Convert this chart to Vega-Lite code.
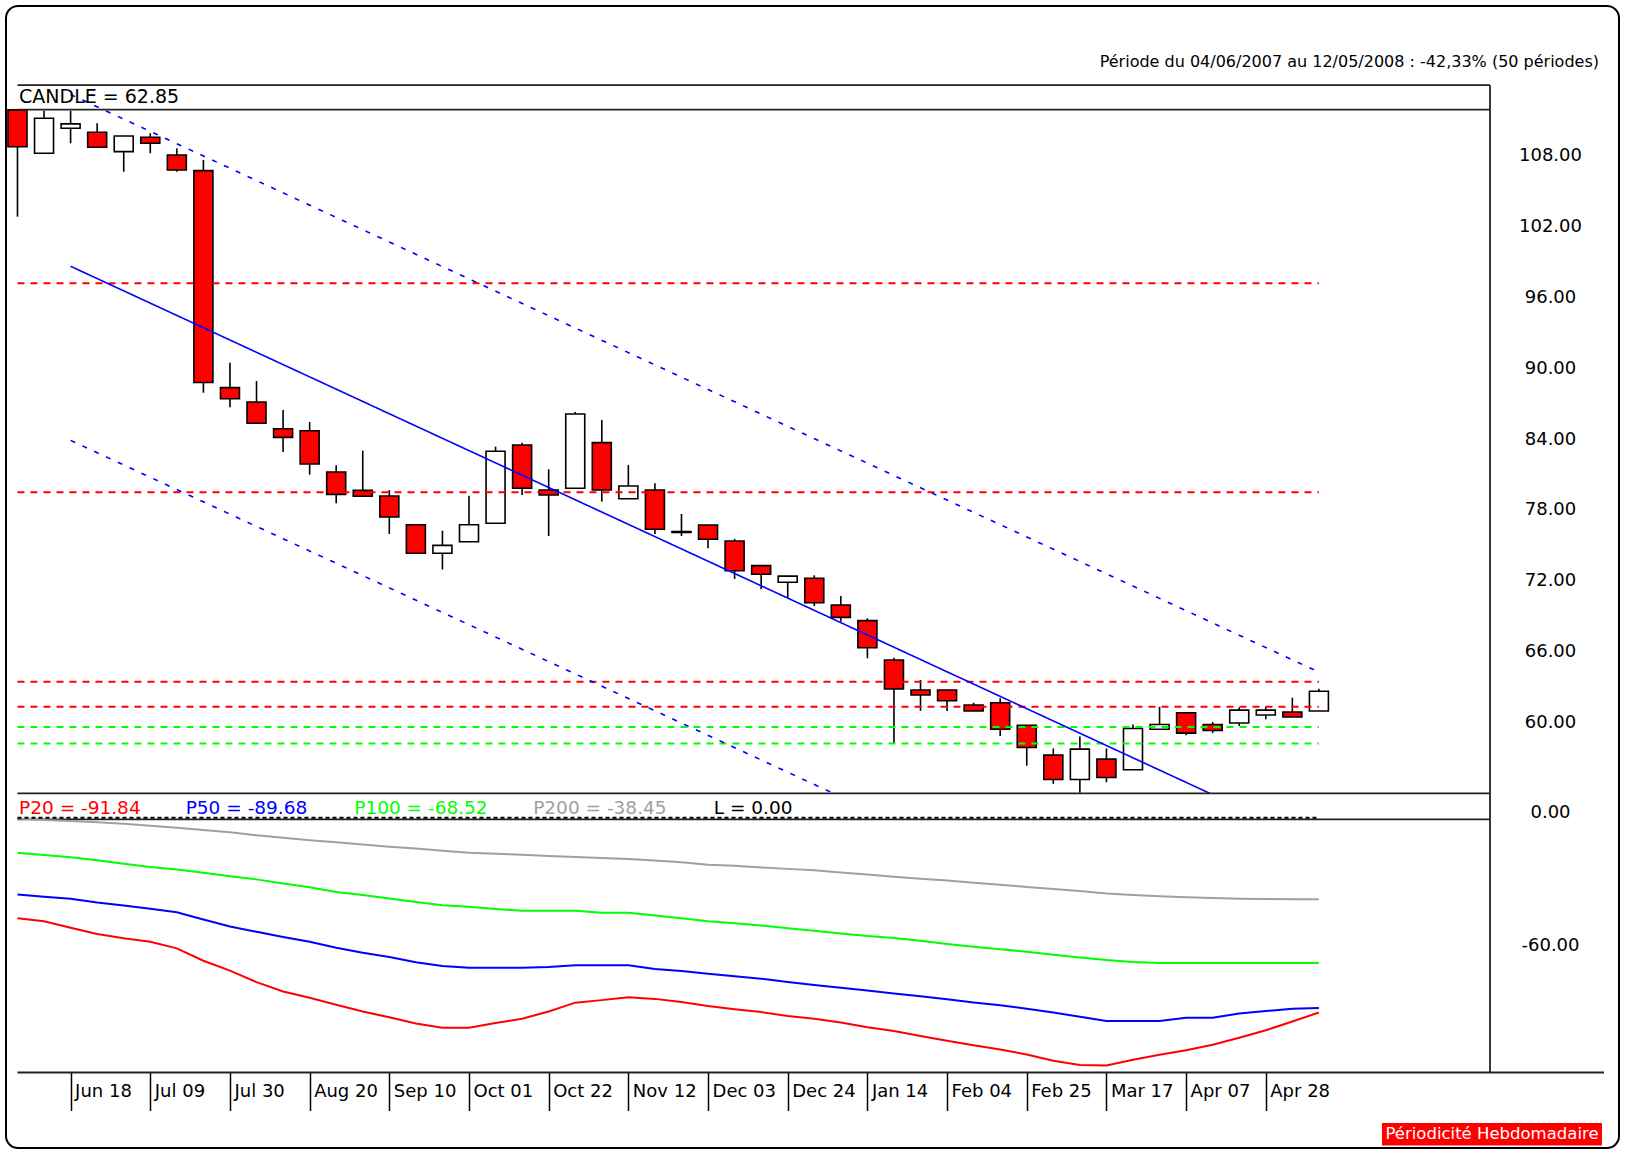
{
"$schema": "https://vega.github.io/schema/vega-lite/v6.json",
"width": 1613, "height": 1142,
"autosize": "none",
"padding": {"left": 6, "top": 6, "right": 11, "bottom": 3},
"background": "#ffffff",
"config": {"font": "DejaVu Sans", "view": {"stroke": "#000000", "strokeWidth": 2, "cornerRadius": 12}},
"datasets": {
"weekly": [
{"date":"2007-06-04","open":112.1,"high":112.1,"low":103.05,"close":108.98,"p20":-47.43,"p50":-36.16,"p100":-16.48,"p200":-0.35},
{"date":"2007-06-11","open":108.42,"high":112.03,"low":108.42,"close":111.39,"p20":-48.82,"p50":-37.24,"p100":-17.56,"p200":-1.05},
{"date":"2007-06-18","open":110.54,"high":112.03,"low":109.27,"close":110.91,"p20":-51.88,"p50":-38.13,"p100":-18.65,"p200":-1.54},
{"date":"2007-06-25","open":110.2,"high":110.97,"low":108.93,"close":108.93,"p20":-54.85,"p50":-39.91,"p100":-20.04,"p200":-2.04},
{"date":"2007-07-02","open":108.56,"high":109.89,"low":106.86,"close":109.89,"p20":-56.83,"p50":-41.4,"p100":-21.62,"p200":-2.83},
{"date":"2007-07-09","open":109.78,"high":110.12,"low":108.42,"close":109.27,"p20":-58.51,"p50":-42.88,"p100":-23.2,"p200":-3.72},
{"date":"2007-07-16","open":108.28,"high":108.85,"low":106.86,"close":107.01,"p20":-61.57,"p50":-44.56,"p100":-24.39,"p200":-4.71},
{"date":"2007-07-23","open":106.95,"high":107.86,"low":88.14,"close":89.0,"p20":-67.41,"p50":-47.93,"p100":-25.87,"p200":-5.7},
{"date":"2007-07-30","open":88.57,"high":90.68,"low":86.91,"close":87.63,"p20":-72.06,"p50":-51.29,"p100":-27.55,"p200":-6.78},
{"date":"2007-08-06","open":87.35,"high":89.13,"low":85.55,"close":85.55,"p20":-77.5,"p50":-53.76,"p100":-29.04,"p200":-8.27},
{"date":"2007-08-13","open":85.09,"high":86.68,"low":83.12,"close":84.36,"p20":-81.95,"p50":-56.23,"p100":-31.01,"p200":-9.45},
{"date":"2007-08-20","open":84.92,"high":85.66,"low":81.2,"close":82.1,"p20":-84.91,"p50":-58.51,"p100":-32.79,"p200":-10.54},
{"date":"2007-08-27","open":81.42,"high":82.0,"low":78.77,"close":79.53,"p20":-88.18,"p50":-61.28,"p100":-34.97,"p200":-11.53},
{"date":"2007-09-03","open":79.87,"high":83.23,"low":79.37,"close":79.37,"p20":-91.34,"p50":-63.65,"p100":-36.45,"p200":-12.62},
{"date":"2007-09-10","open":79.39,"high":79.9,"low":76.17,"close":77.61,"p20":-94.11,"p50":-65.63,"p100":-38.04,"p200":-13.61},
{"date":"2007-09-17","open":76.96,"high":76.96,"low":74.54,"close":74.54,"p20":-96.98,"p50":-68.1,"p100":-39.72,"p200":-14.5},
{"date":"2007-09-24","open":74.54,"high":76.45,"low":73.16,"close":75.21,"p20":-99.06,"p50":-69.88,"p100":-41.2,"p200":-15.49},
{"date":"2007-10-01","open":75.52,"high":79.42,"low":75.52,"close":76.96,"p20":-99.06,"p50":-70.67,"p100":-41.99,"p200":-16.48},
{"date":"2007-10-08","open":77.08,"high":83.57,"low":77.08,"close":83.18,"p20":-96.78,"p50":-70.67,"p100":-42.98,"p200":-16.97},
{"date":"2007-10-15","open":83.71,"high":83.91,"low":79.47,"close":80.04,"p20":-94.8,"p50":-70.67,"p100":-43.87,"p200":-17.46},
{"date":"2007-10-22","open":79.9,"high":81.65,"low":76.0,"close":79.48,"p20":-91.34,"p50":-70.37,"p100":-43.87,"p200":-17.96},
{"date":"2007-10-29","open":80.04,"high":86.51,"low":80.04,"close":86.34,"p20":-87.19,"p50":-69.58,"p100":-43.87,"p200":-18.45},
{"date":"2007-11-05","open":83.91,"high":85.83,"low":78.91,"close":79.9,"p20":-86.0,"p50":-69.58,"p100":-44.76,"p200":-18.95},
{"date":"2007-11-12","open":79.16,"high":82.02,"low":79.16,"close":80.24,"p20":-84.62,"p50":-69.58,"p100":-44.76,"p200":-19.44},
{"date":"2007-11-19","open":79.9,"high":80.47,"low":76.17,"close":76.57,"p20":-85.41,"p50":-71.36,"p100":-46.05,"p200":-20.13},
{"date":"2007-11-26","open":76.38,"high":77.87,"low":76.0,"close":76.3,"p20":-86.89,"p50":-72.25,"p100":-47.33,"p200":-20.93},
{"date":"2007-12-03","open":76.93,"high":76.93,"low":74.96,"close":75.72,"p20":-88.77,"p50":-73.54,"p100":-48.82,"p200":-22.11},
{"date":"2007-12-10","open":75.58,"high":75.76,"low":72.36,"close":73.06,"p20":-90.25,"p50":-74.73,"p100":-49.71,"p200":-22.61},
{"date":"2007-12-17","open":73.49,"high":73.49,"low":71.49,"close":72.76,"p20":-91.64,"p50":-75.91,"p100":-50.79,"p200":-23.4},
{"date":"2007-12-24","open":72.08,"high":72.6,"low":70.72,"close":72.6,"p20":-93.52,"p50":-77.5,"p100":-52.08,"p200":-24.09},
{"date":"2007-12-31","open":72.42,"high":72.67,"low":70.07,"close":70.35,"p20":-94.8,"p50":-78.88,"p100":-53.27,"p200":-24.78},
{"date":"2008-01-07","open":70.16,"high":70.92,"low":68.74,"close":69.11,"p20":-96.58,"p50":-80.17,"p100":-54.55,"p200":-25.77},
{"date":"2008-01-14","open":68.83,"high":69.03,"low":65.64,"close":66.54,"p20":-98.76,"p50":-81.45,"p100":-55.74,"p200":-26.76},
{"date":"2008-01-21","open":65.5,"high":65.69,"low":58.44,"close":63.04,"p20":-100.54,"p50":-82.84,"p100":-56.73,"p200":-27.75},
{"date":"2008-01-28","open":62.96,"high":63.8,"low":61.18,"close":62.53,"p20":-102.91,"p50":-84.22,"p100":-58.01,"p200":-28.74},
{"date":"2008-02-04","open":62.96,"high":62.96,"low":61.18,"close":62.05,"p20":-105.19,"p50":-85.61,"p100":-59.5,"p200":-29.53},
{"date":"2008-02-11","open":61.68,"high":61.88,"low":61.18,"close":61.18,"p20":-107.27,"p50":-87.09,"p100":-60.78,"p200":-30.62},
{"date":"2008-02-18","open":61.88,"high":62.25,"low":59.06,"close":59.63,"p20":-109.24,"p50":-88.38,"p100":-61.97,"p200":-31.61},
{"date":"2008-02-25","open":59.97,"high":59.97,"low":56.54,"close":58.08,"p20":-111.62,"p50":-90.05,"p100":-63.16,"p200":-32.6},
{"date":"2008-03-03","open":57.44,"high":58.0,"low":55.0,"close":55.37,"p20":-114.58,"p50":-91.84,"p100":-64.64,"p200":-33.58},
{"date":"2008-03-10","open":55.37,"high":59.01,"low":54.25,"close":57.95,"p20":-116.56,"p50":-93.82,"p100":-65.93,"p200":-34.57},
{"date":"2008-03-17","open":57.1,"high":58.0,"low":55.14,"close":55.54,"p20":-116.86,"p50":-95.79,"p100":-67.11,"p200":-35.66},
{"date":"2008-03-24","open":56.2,"high":60.03,"low":56.2,"close":59.69,"p20":-114.09,"p50":-95.89,"p100":-68.0,"p200":-36.45},
{"date":"2008-03-31","open":59.63,"high":61.53,"low":59.63,"close":60.03,"p20":-111.81,"p50":-95.89,"p100":-68.52,"p200":-37.05},
{"date":"2008-04-07","open":61.03,"high":61.03,"low":59.13,"close":59.3,"p20":-109.64,"p50":-94.31,"p100":-68.52,"p200":-37.44},
{"date":"2008-04-14","open":60.03,"high":60.25,"low":59.3,"close":59.52,"p20":-107.07,"p50":-94.31,"p100":-68.52,"p200":-37.84},
{"date":"2008-04-21","open":60.16,"high":61.48,"low":59.91,"close":61.25,"p20":-103.71,"p50":-92.33,"p100":-68.52,"p200":-38.2},
{"date":"2008-04-28","open":60.84,"high":61.53,"low":60.47,"close":61.25,"p20":-100.24,"p50":-91.14,"p100":-68.52,"p200":-38.3},
{"date":"2008-05-05","open":61.09,"high":62.3,"low":60.67,"close":60.67,"p20":-96.09,"p50":-90.05,"p100":-68.52,"p200":-38.4},
{"date":"2008-05-12","open":61.17,"high":63.05,"low":61.17,"close":62.85,"p20":-91.84,"p50":-89.68,"p100":-68.52,"p200":-38.45}
],
"levels": [
{"kind":"resistance","level":97.41,"date":"2007-06-04","date2":"2008-05-12"},
{"kind":"resistance","level":79.7,"date":"2007-06-04","date2":"2008-05-12"},
{"kind":"resistance","level":63.65,"date":"2007-06-04","date2":"2008-05-12"},
{"kind":"resistance","level":61.54,"date":"2007-06-04","date2":"2008-05-12"},
{"kind":"support","level":59.83,"date":"2007-06-04","date2":"2008-05-12"},
{"kind":"support","level":58.42,"date":"2007-06-04","date2":"2008-05-12"}
],
"channel": [
{"line":"mid","date":"2007-06-18","price":98.85},
{"line":"mid","date":"2008-04-13T07:12:00Z","price":54.19},
{"line":"upper","date":"2007-06-18","price":113.4},
{"line":"upper","date":"2008-05-12","price":64.47},
{"line":"lower","date":"2007-06-18","price":84.1},
{"line":"lower","date":"2008-01-05T02:38:00Z","price":54.19}
],
"frame": [
{"level":114.19,"date":"2007-06-04","date2":"2008-06-26T02:10:00Z"},
{"level":112.12,"date":"2007-06-04","date2":"2008-06-26T02:10:00Z"},
{"level":54.19,"date":"2007-06-04","date2":"2008-06-26T02:10:00Z"},
{"level":51.99,"date":"2007-06-04","date2":"2008-06-26T02:10:00Z"},
{"level":30.55,"date":"2007-06-04","date2":"2008-07-26T03:07:00Z"}
]
},
"encoding": {
"x": {"field": "date", "type": "temporal",
 "scale": {"type": "utc", "nice": false, "padding": 0, "domain": [{"year":2007,"month":"may","date":31,"hours":23,"minutes":23,"utc":true},{"year":2008,"month":"jul","date":30,"hours":2,"minutes":10,"utc":true}]},
 "axis": {"orient": "bottom", "offset": -75.5, "title": null, "format": "%b %d", "domain": false, "grid": false,
  "ticks": true, "tickSize": 38, "tickColor": "#000000", "tickWidth": 1.5,
  "labelAlign": "left", "labelBaseline": "middle", "labelPadding": -19.5, "labelOffset": 4,
  "labelFontSize": 18, "labelColor": "#000000", "labelOverlap": false, "labelFlush": false, "labelBound": false,
  "values": [
   {"year":2007,"month":"jun","date":18,"utc":true},{"year":2007,"month":"jul","date":9,"utc":true},
   {"year":2007,"month":"jul","date":30,"utc":true},{"year":2007,"month":"aug","date":20,"utc":true},
   {"year":2007,"month":"sep","date":10,"utc":true},{"year":2007,"month":"oct","date":1,"utc":true},
   {"year":2007,"month":"oct","date":22,"utc":true},{"year":2007,"month":"nov","date":12,"utc":true},
   {"year":2007,"month":"dec","date":3,"utc":true},{"year":2007,"month":"dec","date":24,"utc":true},
   {"year":2008,"month":"jan","date":14,"utc":true},{"year":2008,"month":"feb","date":4,"utc":true},
   {"year":2008,"month":"feb","date":25,"utc":true},{"year":2008,"month":"mar","date":17,"utc":true},
   {"year":2008,"month":"apr","date":7,"utc":true},{"year":2008,"month":"apr","date":28,"utc":true}]}}
},
"layer": [
 {"data": {"name": "weekly"},
  "mark": {"type": "rule", "color": "#000000", "strokeWidth": 1.6},
  "encoding": {
   "y": {"field": "high", "type": "quantitative", "scale": {"domain": [24.155, 120.9], "zero": false, "nice": false, "padding": 0},
    "axis": {"orient": "right", "offset": -129, "title": null, "values": [60,66,72,78,84,90,96,102,108], "format": ".2f",
     "domain": false, "ticks": false, "grid": false, "labelAlign": "center", "labelPadding": 60, "labelOffset": -2.5,
     "labelFontSize": 18, "labelColor": "#000000", "labelOverlap": false, "labelBound": false}},
   "y2": {"field": "low"}}},
 {"data": {"name": "weekly"},
  "mark": {"type": "bar", "width": 19, "stroke": "#000000", "strokeWidth": 1.6},
  "encoding": {
   "y": {"field": "open", "type": "quantitative", "scale": {"domain": [24.155, 120.9], "zero": false, "nice": false, "padding": 0}, "axis": null},
   "y2": {"field": "close"},
   "fill": {"condition": {"test": "datum.close < datum.open", "value": "#ff0000"}, "value": "#ffffff"}}},
 {"data": {"name": "levels"},
  "mark": {"type": "rule", "strokeWidth": 2, "strokeDash": [7, 6]},
  "encoding": {
   "y": {"field": "level", "type": "quantitative", "scale": {"domain": [24.155, 120.9], "zero": false, "nice": false, "padding": 0}, "axis": null},
   "x2": {"field": "date2"},
   "color": {"field": "kind", "type": "nominal", "scale": {"domain": ["resistance", "support"], "range": ["#ff0000", "#00ff00"]}, "legend": null}}},
 {"data": {"name": "channel"},
  "mark": {"type": "line", "color": "#0000ff", "strokeWidth": 1.6},
  "encoding": {
   "y": {"field": "price", "type": "quantitative", "scale": {"domain": [24.155, 120.9], "zero": false, "nice": false, "padding": 0}, "axis": null},
   "detail": {"field": "line"},
   "strokeDash": {"field": "line", "type": "nominal", "scale": {"domain": ["mid", "upper", "lower"], "range": [[1, 0], [5, 8], [5, 8]]}, "legend": null}}},
 {"data": {"name": "frame"},
  "mark": {"type": "rule", "color": "#222222", "strokeWidth": 1.8},
  "encoding": {
   "y": {"field": "level", "type": "quantitative", "scale": {"domain": [24.155, 120.9], "zero": false, "nice": false, "padding": 0}, "axis": null},
   "x2": {"field": "date2"}}},
 {"data": {"values": [{"date": "2008-06-26T02:10:00Z", "level": 114.19, "level2": 30.55}]},
  "mark": {"type": "rule", "color": "#222222", "strokeWidth": 1.8},
  "encoding": {
   "y": {"field": "level", "type": "quantitative", "scale": {"domain": [24.155, 120.9], "zero": false, "nice": false, "padding": 0}, "axis": null},
   "y2": {"field": "level2"}}},
 {"data": {"values": [{"date": "2008-07-24T19:26:00Z", "price": 116.12, "label": "Période du 04/06/2007 au 12/05/2008 : -42,33% (50 périodes)"}]},
  "mark": {"type": "text", "align": "right", "baseline": "middle", "fontSize": 16, "color": "#000000"},
  "encoding": {
   "y": {"field": "price", "type": "quantitative", "scale": {"domain": [24.155, 120.9], "zero": false, "nice": false, "padding": 0}, "axis": null},
   "text": {"field": "label"}}},
 {"data": {"values": [{"date": "2007-06-04T10:00:00Z", "price": 113.15, "label": "CANDLE = 62.85"}]},
  "mark": {"type": "text", "align": "left", "baseline": "middle", "fontSize": 19, "color": "#000000"},
  "encoding": {
   "y": {"field": "price", "type": "quantitative", "scale": {"domain": [24.155, 120.9], "zero": false, "nice": false, "padding": 0}, "axis": null},
   "text": {"field": "label"}}},
 {"data": {"name": "weekly"},
  "transform": [{"fold": ["p20", "p50", "p100", "p200"], "as": ["series", "value"]}],
  "mark": {"type": "line", "strokeWidth": 2},
  "encoding": {
   "y": {"field": "value", "type": "quantitative", "scale": {"domain": [-155.75, 382.92], "zero": false, "nice": false, "padding": 0},
    "axis": {"orient": "right", "offset": -129, "title": null, "values": [0, -60], "format": ".2f",
     "labelExpr": "replace(datum.label, '\u2212', '-')",
     "domain": false, "ticks": false, "grid": false, "labelAlign": "center", "labelPadding": 60,
     "labelOffset": {"condition": {"test": "datum.value === 0", "value": -5}, "value": 0},
     "labelFontSize": 18, "labelColor": "#000000", "labelOverlap": false, "labelBound": false}},
   "color": {"field": "series", "type": "nominal", "scale": {"domain": ["p20", "p50", "p100", "p200", "l"], "range": ["#ff0000", "#0000ff", "#00ff00", "#a0a0a0", "#000000"]}, "legend": null}}},
 {"data": {"values": [{"date": "2007-06-04", "date2": "2008-05-12", "value": 0}]},
  "mark": {"type": "rule", "color": "#000000", "strokeWidth": 2, "strokeDash": [4, 3]},
  "encoding": {
   "y": {"field": "value", "type": "quantitative", "scale": {"domain": [-155.75, 382.92], "zero": false, "nice": false, "padding": 0}, "axis": null},
   "x2": {"field": "date2"}}},
 {"data": {"values": [
   {"date": "2007-06-04T10:00:00Z", "value": 4.6, "series": "p20", "label": "P20 = -91.84"},
   {"date": "2007-07-18T08:00:00Z", "value": 4.6, "series": "p50", "label": "P50 = -89.68"},
   {"date": "2007-08-31T18:00:00Z", "value": 4.6, "series": "p100", "label": "P100 = -68.52"},
   {"date": "2007-10-17T22:00:00Z", "value": 4.6, "series": "p200", "label": "P200 = -38.45"},
   {"date": "2007-12-04T12:00:00Z", "value": 4.6, "series": "l", "label": "L = 0.00"}]},
  "mark": {"type": "text", "align": "left", "baseline": "middle", "fontSize": 18.5},
  "encoding": {
   "y": {"field": "value", "type": "quantitative", "scale": {"domain": [-155.75, 382.92], "zero": false, "nice": false, "padding": 0}, "axis": null},
   "text": {"field": "label"},
   "color": {"field": "series", "type": "nominal", "scale": {"domain": ["p20", "p50", "p100", "p200", "l"], "range": ["#ff0000", "#0000ff", "#00ff00", "#a0a0a0", "#000000"]}, "legend": null}}},
 {"data": {"values": [{"date": "2008-05-28T14:53:00Z", "date2": "2008-07-25T14:24:00Z", "value": -143.96, "value2": -154.58}]},
  "mark": {"type": "rect", "color": "#ff0000"},
  "encoding": {
   "x2": {"field": "date2"},
   "y": {"field": "value", "type": "quantitative", "scale": {"domain": [-155.75, 382.92], "zero": false, "nice": false, "padding": 0}, "axis": null},
   "y2": {"field": "value2"}}},
 {"data": {"values": [{"date": "2008-06-26T14:53:00Z", "value": -149.27, "label": "Périodicité Hebdomadaire"}]},
  "mark": {"type": "text", "align": "center", "baseline": "middle", "fontSize": 16.5, "color": "#ffffff"},
  "encoding": {
   "y": {"field": "value", "type": "quantitative", "scale": {"domain": [-155.75, 382.92], "zero": false, "nice": false, "padding": 0}, "axis": null},
   "text": {"field": "label"}}}
],
"resolve": {"scale": {"y": "independent", "color": "independent", "strokeDash": "independent"}, "axis": {"y": "independent"}}
}
